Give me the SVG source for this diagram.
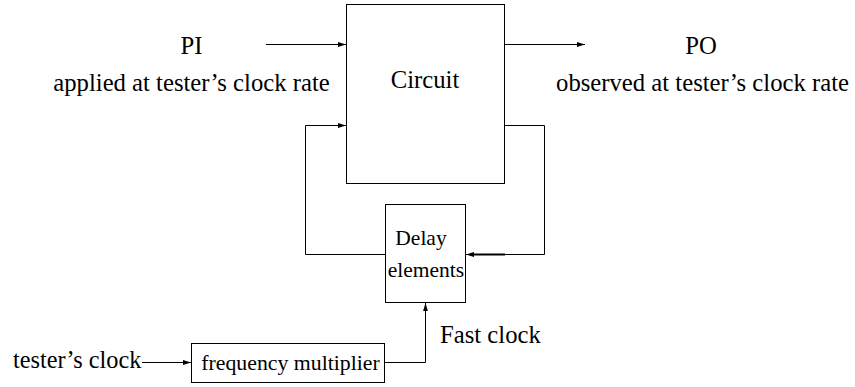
<svg xmlns="http://www.w3.org/2000/svg" width="855" height="387" viewBox="0 0 855 387">
  <style>
    .box { fill: #fff; stroke: #000; stroke-width: 1; }
    .wire { fill: none; stroke: #000; stroke-width: 1; }
    .lbl { font-family: "Liberation Serif", "Times New Roman", serif; fill: #000; }
    .big { font-size: 24.7px; }
    .mid { font-size: 21.5px; }
  </style>
  <defs>
    <marker id="arrow" markerUnits="userSpaceOnUse" markerWidth="9" markerHeight="6" refX="8" refY="3" orient="auto">
      <path d="M0,0.6 L8,3 L0,5.4 z" fill="#000"/>
    </marker>
  </defs>

  <rect width="855" height="387" fill="#fff"/>

  <!-- connectors -->
  <g id="connectors">
    <line class="wire" x1="266" y1="44.5" x2="346" y2="44.5" marker-end="url(#arrow)"/>
    <line class="wire" x1="504.5" y1="44.5" x2="585" y2="44.5" marker-end="url(#arrow)"/>
    <path class="wire" d="M385.5 254.5 H305.5 V125.5 H346" marker-end="url(#arrow)"/>
    <path class="wire" d="M504.5 125.5 H544.5 V254.5 H466" marker-end="url(#arrow)"/>
    <line x1="505" y1="254.5" x2="470" y2="254.5" stroke="#000" stroke-width="2"/>
    <line class="wire" x1="142" y1="362.5" x2="191" y2="362.5" marker-end="url(#arrow)"/>
    <path class="wire" d="M384.5 362.5 H425.5 V303" marker-end="url(#arrow)"/>
  </g>

  <!-- circuit block -->
  <g id="circuit">
    <rect class="box" x="346.5" y="4.5" width="158" height="179"/>
    <text class="lbl big" x="425" y="88" text-anchor="middle">Circuit</text>
  </g>

  <!-- delay elements -->
  <g id="delay">
    <rect class="box" x="385.5" y="204.5" width="80" height="98"/>
    <text class="lbl mid" x="421" y="245" text-anchor="middle">Delay</text>
    <text class="lbl mid" x="426" y="277" text-anchor="middle">elements</text>
  </g>

  <!-- frequency multiplier -->
  <g id="multiplier">
    <rect class="box" x="191.5" y="343.5" width="193" height="39"/>
    <text class="lbl" x="290.5" y="370" text-anchor="middle" font-size="21.8px">frequency multiplier</text>
  </g>

  <!-- primary inputs -->
  <g id="pi">
    <text class="lbl big" x="191.5" y="54" text-anchor="middle">PI</text>
    <text class="lbl big" x="191.5" y="91" text-anchor="middle">applied at tester’s clock rate</text>
  </g>

  <!-- primary outputs -->
  <g id="po">
    <text class="lbl big" x="701" y="54" text-anchor="middle">PO</text>
    <text class="lbl big" x="702.5" y="91" text-anchor="middle">observed at tester’s clock rate</text>
  </g>

  <!-- clock labels -->
  <g id="tester-clock">
    <text class="lbl" x="13" y="368" font-size="24.3px">tester’s clock</text>
  </g>
  <g id="fast-clock">
    <text class="lbl big" x="440" y="343">Fast clock</text>
  </g>
</svg>
